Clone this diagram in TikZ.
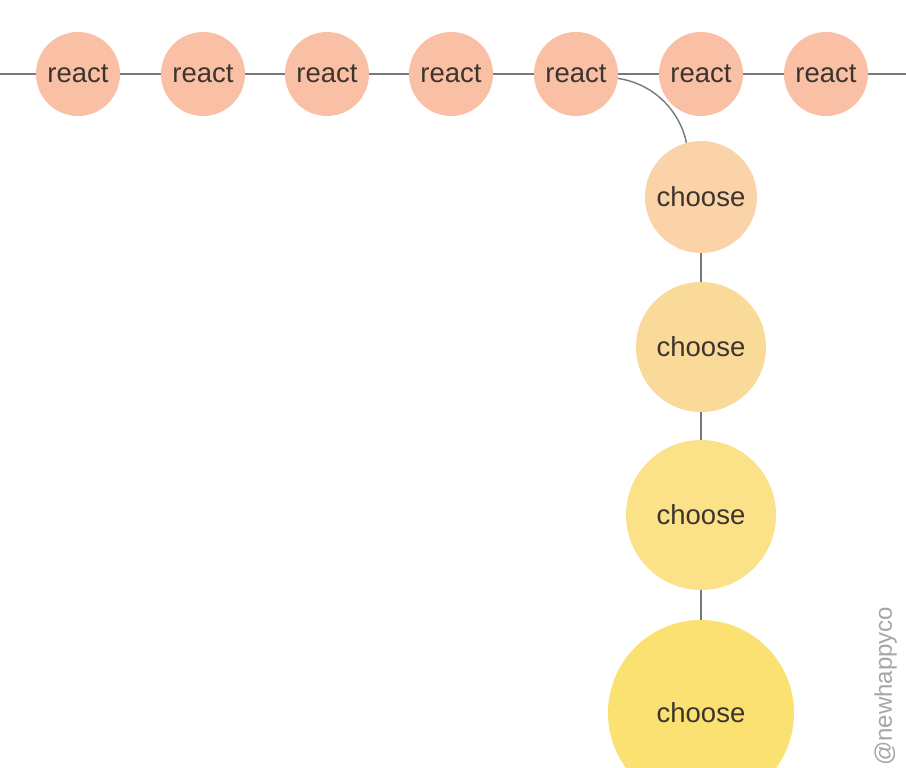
\documentclass[tikz,border=0pt]{standalone}
\usepackage{fontspec}
\setmainfont{Liberation Sans}
\definecolor{reactfill}{RGB}{249,192,166}
\definecolor{chA}{RGB}{250,212,168}
\definecolor{chB}{RGB}{250,218,152}
\definecolor{chC}{RGB}{251,225,135}
\definecolor{chD}{RGB}{251,224,114}
\definecolor{txt}{RGB}{62,52,46}
\definecolor{link}{RGB}{120,120,120}
\begin{document}
\begin{tikzpicture}[x=1pt,y=-1pt,
  bubble/.style={circle,inner sep=0pt,text=txt,font=\fontsize{27.5}{30}\selectfont},
  reactnode/.style={bubble,fill=reactfill,minimum size=84pt},
  conn/.style={draw=link,line width=1.4pt}]
\clip (0,0) rectangle (906,768);
\fill[white] (0,0) rectangle (906,768);
\coordinate (L) at (0,74);
\coordinate (R) at (906,74);
\foreach \i/\x in {1/78,2/203,3/327,4/451,5/576,6/701,7/826}{
  \node[reactnode] (r\i) at (\x,74) {react};
}
\node[bubble,fill=chA,minimum size=112pt] (c1) at (701,197) {choose};
\node[bubble,fill=chB,minimum size=130pt] (c2) at (701,347) {choose};
\node[bubble,fill=chC,minimum size=150pt] (c3) at (701,515) {choose};
\node[bubble,fill=chD,minimum size=186pt] (c4) at (701,713) {choose};
\draw[conn] (L) -- (r1);
\draw[conn] (r1) -- (r2);
\draw[conn] (r2) -- (r3);
\draw[conn] (r3) -- (r4);
\draw[conn] (r4) -- (r5);
\draw[conn] (r5) -- (r6);
\draw[conn] (r6) -- (r7);
\draw[conn] (r7) -- (R);
\draw[conn] (r5.-6) .. controls (655,84) and (680,112) .. (c1.105);
\draw[conn] (c1) -- (c2);
\draw[conn] (c2) -- (c3);
\draw[conn] (c3) -- (c4);
\node[rotate=90,text=black!35,font=\fontsize{24}{26}\selectfont,anchor=south west,inner sep=0pt] (wm) at (897,766) {@newhappyco};
\end{tikzpicture}
\end{document}
